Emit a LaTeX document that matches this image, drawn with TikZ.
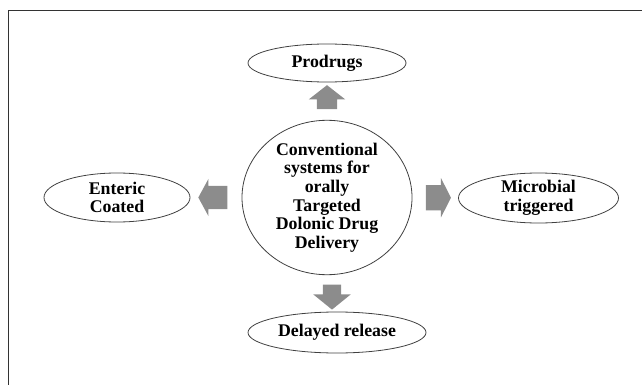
\documentclass[tikz,border=0pt]{standalone}
\usepackage{fontspec}
\setmainfont{Liberation Serif}
\usetikzlibrary{shapes.geometric,shapes.arrows,calc}
\tikzset{
  oval/.style={ellipse,draw=black!75,line width=.8pt,inner sep=0pt,align=center,
    font=\bfseries\fontsize{17.8}{18.6}\selectfont},
  blk/.style={single arrow,fill=black!45,draw=none,inner xsep=0pt}
}
\begin{document}
\begin{tikzpicture}[x=1pt,y=-1pt]
\useasboundingbox(0,0)rectangle(642,385);
\draw[black!80,line width=1.2pt](8.5,385)--(8.5,10.5)--(642,10.5);

\node[oval,minimum width=170pt,minimum height=133pt](conv)at(327,197.5){Conventional\\systems for\\orally\\Targeted\\Dolonic Drug\\Delivery};
\node[oval,minimum width=158pt,minimum height=38pt](prodrugs)at(327,63){Prodrugs};
\node[oval,minimum width=146pt,minimum height=49pt](enteric)at(117,197.5){Enteric\\Coated};
\node[oval,minimum width=160pt,minimum height=50pt](microbial)at(538.5,198){Microbial\\triggered};
\node[oval,minimum width=178pt,minimum height=41pt](delayed)at(337,332.5){Delayed release};

\node[blk,rotate=90,inner ysep=10pt,minimum height=24pt,single arrow head extend=8pt,single arrow tip angle=104](up)at($(conv.north)!.5!(prodrugs.south)$){};
\node[blk,rotate=180,inner ysep=11.5pt,minimum height=29pt,single arrow head extend=7pt,single arrow tip angle=123](left)at($(conv.west)!.5!(enteric.east)$){};
\node[blk,inner ysep=12.5pt,minimum height=25pt,single arrow head extend=7pt,single arrow tip angle=126](right)at($(conv.east)!.5!(microbial.west)$){};
\node[blk,rotate=-90,inner ysep=9pt,minimum height=25pt,single arrow head extend=9.5pt,single arrow tip angle=102](down)at($(conv.south)!.5!(delayed.north)$){};
\end{tikzpicture}
\end{document}
